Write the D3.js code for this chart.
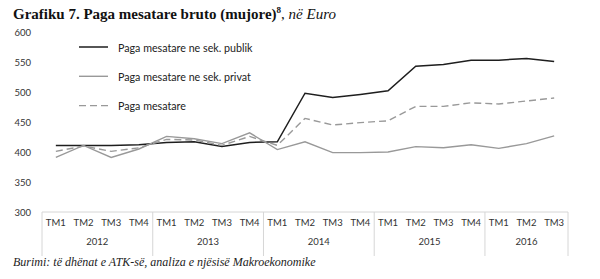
<!DOCTYPE html>
<html>
<head>
<meta charset="utf-8">
<title>Grafiku 7</title>
<script src="https://cdn.jsdelivr.net/npm/d3@7"></script>
<style>
  body { margin: 0; background: #fff; }
  svg { display: block; }
</style>
</head>
<body>
<svg width="600" height="279"></svg>
<script>
// te dhenat
const quarters = ['TM1', 'TM2', 'TM3', 'TM4']
const years = ['2012', '2013', '2014', '2015', '2016']
const categories = ['2012 TM1', '2012 TM2', '2012 TM3', '2012 TM4',
  '2013 TM1', '2013 TM2', '2013 TM3', '2013 TM4',
  '2014 TM1', '2014 TM2', '2014 TM3', '2014 TM4',
  '2015 TM1', '2015 TM2', '2015 TM3', '2015 TM4',
  '2016 TM1', '2016 TM2', '2016 TM3']
const publik = [411, 411, 411, 412, 416, 417, 409, 416, 417, 498, 491, 496, 502, 543, 546, 553, 553, 556, 551]
const privat = [391, 411, 391, 405, 426, 422, 414, 432, 404, 417, 399, 399, 400, 409, 407, 412, 406, 414, 427]
const mesatare = [401, 410, 401, 407, 421, 420, 411, 426, 411, 456, 445, 449, 452, 476, 476, 482, 480, 485, 490]
const yTicks = [300, 350, 400, 450, 500, 550, 600]
const seriesNames = ['Paga mesatare ne sek. publik', 'Paga mesatare ne sek. privat', 'Paga mesatare']

const svg = d3.select('svg')
const plotLeft = 42, plotRight = 568, plotTop = 32, plotBottom = 212

const x = d3.scaleBand().domain(categories).range([plotLeft, plotRight])
const y = d3.scaleLinear().domain([300, 600]).range([plotBottom, plotTop])

// titulli
const title = svg.append('text').attr('x', 13).attr('y', 19)
  .style('font-family', '"Liberation Serif", "Times New Roman", serif')
  .style('font-size', '15px').attr('fill', '#111')
title.append('tspan').style('font-weight', 'bold').text('Grafiku 7. Paga mesatare bruto (mujore)')
title.append('tspan').style('font-weight', 'bold').style('font-size', '9px').attr('dy', -6).text('8')
title.append('tspan').attr('dy', 6).text(', ')
title.append('tspan').style('font-style', 'italic').text('në Euro')

// boshti y (vetem etiketat)
const gy = svg.append('g').attr('transform', `translate(31,0)`)
  .call(d3.axisLeft(y).tickValues(yTicks).tickSize(0).tickPadding(0))
gy.select('.domain').remove()
gy.selectAll('text').style('font-family', 'Lato, sans-serif').style('font-size', '9.5px').attr('fill', '#333')

// boshti x: tabela me TM dhe vitet
const gx = svg.append('g').attr('transform', `translate(0,${plotBottom})`)
  .call(d3.axisBottom(x).tickSize(0).tickPadding(7).tickFormat(d => d.split(' ')[1]))
gx.select('.domain').remove()
gx.selectAll('text').style('font-family', 'Lato, sans-serif').style('font-size', '9.5px').attr('fill', '#333')

const gridColor = '#d6d6d6'
svg.append('line').attr('x1', plotLeft).attr('x2', plotRight).attr('y1', plotBottom).attr('y2', plotBottom)
  .attr('stroke', gridColor)
const bounds = years.map(yr => x(yr + ' TM1'))
bounds.push(plotRight)
svg.selectAll('.sep').data(bounds).enter().append('line').attr('class', 'sep')
  .attr('x1', d => d).attr('x2', d => d).attr('y1', plotBottom).attr('y2', 256)
  .attr('stroke', gridColor)
svg.selectAll('.yr').data(years).enter().append('text').attr('class', 'yr')
  .attr('x', (d, i) => (bounds[i] + bounds[i + 1]) / 2).attr('y', 245)
  .attr('text-anchor', 'middle')
  .style('font-family', 'Lato, sans-serif').style('font-size', '9.5px').attr('fill', '#333')
  .text(d => d)

// linjat
const line = d3.line().x((d, i) => x(categories[i]) + x.bandwidth() / 2).y(d => y(d))
const series = [
  { name: seriesNames[0], values: publik, color: '#1e1e1e', dash: null, width: 1.5 },
  { name: seriesNames[1], values: privat, color: '#999', dash: null, width: 1.4 },
  { name: seriesNames[2], values: mesatare, color: '#999', dash: '7,4', width: 1.4 }
]
svg.selectAll('.series').data(series).enter().append('path').attr('class', 'series')
  .attr('d', d => line(d.values)).attr('fill', 'none')
  .attr('stroke', d => d.color).attr('stroke-width', d => d.width)
  .attr('stroke-dasharray', d => d.dash)

// legjenda
const lg = svg.selectAll('.lg').data(series).enter().append('g').attr('class', 'lg')
  .attr('transform', (d, i) => `translate(79,${47 + i * 29.3})`)
lg.append('line').attr('x1', 0).attr('x2', 29).attr('stroke', d => d.color)
  .attr('stroke-width', d => d.width).attr('stroke-dasharray', d => d.dash)
lg.append('text').attr('x', 39).attr('y', 4.5)
  .style('font-family', 'Lato, sans-serif').style('font-size', '10.7px').attr('fill', '#222')
  .text(d => d.name)

// burimi
svg.append('text').attr('x', 13).attr('y', 266)
  .style('font-family', '"Liberation Serif", "Times New Roman", serif')
  .style('font-size', '12px').style('font-style', 'italic').attr('fill', '#222')
  .text('Burimi: të dhënat e ATK-së, analiza e njësisë Makroekonomike')
</script>
</body>
</html>
